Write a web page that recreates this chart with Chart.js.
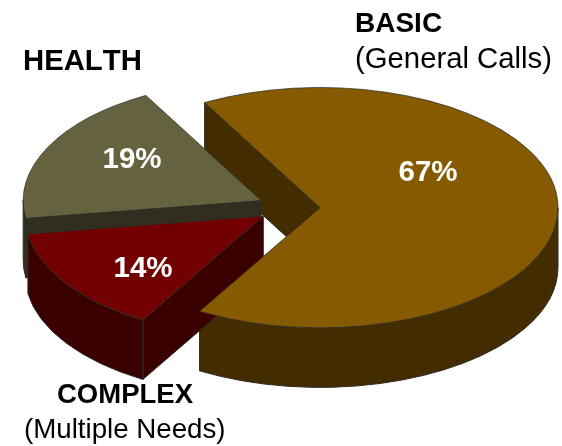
<!DOCTYPE html>
<html><head><meta charset="utf-8">
<style>html,body{margin:0;padding:0;background:#fff}canvas{display:block}</style>
<script src="https://cdn.jsdelivr.net/npm/chart.js@4/dist/chart.umd.js"></script>
</head><body><canvas id="c" width="562" height="446"></canvas>
<script>
const categories = ['BASIC', 'COMPLEX', 'HEALTH'];
const subtitles = ['(General Calls)', '(Multiple Needs)', ''];
const shares = [66.5, 14.2, 19.3];
const topColors = ['#855a00', '#730000', '#65623f'];
const wallColors = ['#422c00', '#3a0000', '#312e20'];
const edgeColor = '#2e2c24';

const TILT = 0.505, DEPTH = 59.5, EXPLODE = 31, RADIUS = 238;
const wallOrder = [0, 2, 1];
const nameSpots = [[355, 32, 28, 355, 68, 29.3], [57, 403, 27.5, 24, 438, 27.7], [23, 70, 29.3, 0, 0, 0]];
const pctSpots = [[428, 181], [143, 277], [132, 168]];
const FAMILY = '"Liberation Sans", Arial, sans-serif';

function shift(p) {
  const mid = (p.startAngle + p.endAngle) / 2;
  return [p.x + Math.cos(mid) * EXPLODE, p.y + Math.sin(mid) * EXPLODE * TILT];
}
const baseDraw = Chart.ArcElement.prototype.draw;
Chart.ArcElement.prototype.draw = function (ctx, area) {
  const p = this.getProps(['x', 'y', 'startAngle', 'endAngle']);
  const [cx, cy] = shift(p);
  ctx.save();
  ctx.translate(cx, cy);
  ctx.scale(1, TILT);
  ctx.translate(-p.x, -p.y);
  baseDraw.call(this, ctx, area);
  ctx.restore();
};

const walls = {
  id: 'walls',
  beforeDatasetsDraw(chart) {
    const ctx = chart.ctx;
    const arcs = chart.getDatasetMeta(0).data;
    ctx.save();
    ctx.lineWidth = 1;
    ctx.strokeStyle = edgeColor;
    ctx.lineJoin = 'round';
    wallOrder.forEach(i => {
      const p = arcs[i].getProps(['x', 'y', 'startAngle', 'endAngle', 'outerRadius']);
      const [cx, cy] = shift(p);
      const R = p.outerRadius, ry = R * TILT;
      ctx.fillStyle = wallColors[i];
      const radial = a => {
        const x = cx + R * Math.cos(a), y = cy + ry * Math.sin(a);
        ctx.beginPath();
        ctx.moveTo(cx, cy); ctx.lineTo(x, y);
        ctx.lineTo(x, y + DEPTH); ctx.lineTo(cx, cy + DEPTH);
        ctx.closePath(); ctx.fill(); ctx.stroke();
      };
      if (Math.cos(p.startAngle) < 0) radial(p.startAngle);
      if (Math.cos(p.endAngle) > 0) radial(p.endAngle);
      [0, 2 * Math.PI, -2 * Math.PI].forEach(s => {
        const lo = Math.max(p.startAngle + s, 0), hi = Math.min(p.endAngle + s, Math.PI);
        if (hi <= lo) return;
        ctx.beginPath();
        ctx.ellipse(cx, cy, R, ry, 0, lo, hi);
        ctx.ellipse(cx, cy + DEPTH, R, ry, 0, hi, lo, true);
        ctx.closePath(); ctx.fill(); ctx.stroke();
      });
    });
    ctx.restore();
  }
};

const texts = {
  id: 'texts',
  afterDraw(chart) {
    const ctx = chart.ctx;
    ctx.save();
    ctx.textBaseline = 'alphabetic';
    ctx.fontKerning = 'none';
    ctx.fillStyle = '#000';
    ctx.textAlign = 'left';
    categories.forEach((name, i) => {
      const s = nameSpots[i];
      ctx.font = 'bold ' + s[2] + 'px ' + FAMILY;
      ctx.fillText(name, s[0], s[1]);
      if (subtitles[i]) { ctx.font = s[5] + 'px ' + FAMILY; ctx.fillText(subtitles[i], s[3], s[4]); }
    });
    ctx.fillStyle = '#fff';
    ctx.textAlign = 'center';
    ctx.font = 'bold 29.5px ' + FAMILY;
    shares.forEach((v, i) => ctx.fillText(Math.round(v) + '%', pctSpots[i][0], pctSpots[i][1]));
    ctx.restore();
  }
};

new Chart(document.getElementById('c'), {
  type: 'pie',
  data: {
    labels: categories,
    datasets: [{ data: shares, backgroundColor: topColors, borderColor: edgeColor, borderWidth: 1 }]
  },
  options: {
    responsive: false,
    animation: false,
    rotation: -29,
    radius: RADIUS,
    layout: { padding: { left: 16, right: 0, top: 0, bottom: 31 } },
    plugins: { legend: { display: false }, tooltip: { enabled: false } }
  },
  plugins: [walls, texts]
});
</script></body></html>
